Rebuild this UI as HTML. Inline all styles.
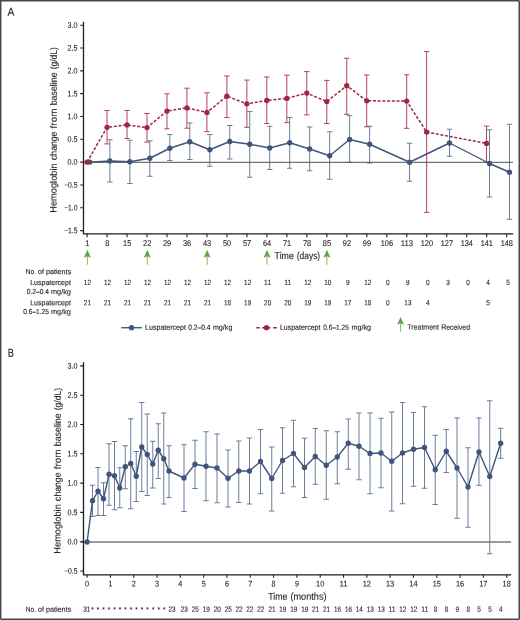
<!DOCTYPE html>
<html lang="en">
<head>
<meta charset="utf-8">
<title>Hemoglobin change from baseline</title>
<style>
html,body{margin:0;padding:0;background:#fff;}
body{width:520px;height:620px;overflow:hidden;}
svg{display:block;}
text{font-family:"Liberation Sans", sans-serif;text-rendering:geometricPrecision;}
</style>
</head>
<body>
<svg width="520" height="620" viewBox="0 0 520 620" role="img" aria-label="Hemoglobin change from baseline over time">
<rect x="0" y="0" width="520" height="620" fill="#fff"/>
<g id="panelA">
<path d="M109.88 139.75V182.0M107.18 139.75H112.58M107.18 182.0H112.58M129.86 140.25V183.5M127.16 140.25H132.56M127.16 183.5H132.56M149.84 140.75V176.25M147.14 140.75H152.54M147.14 176.25H152.54M169.82 134.5V160.5M167.12 134.5H172.52M167.12 160.5H172.52M189.8 123.0V159.5M187.1 123.0H192.5M187.1 159.5H192.5M209.78 134.5V166.25M207.08 134.5H212.48M207.08 166.25H212.48M229.76 125.5V159.0M227.06 125.5H232.46M227.06 159.0H232.46M249.74 111.5V177.25M247.04 111.5H252.44M247.04 177.25H252.44M269.72 126.25V169.5M267.02 126.25H272.42M267.02 169.5H272.42M289.7 117.5V168.25M287.0 117.5H292.4M287.0 168.25H292.4M309.68 127.0V170.75M306.98 127.0H312.38M306.98 170.75H312.38M329.66 131.75V179.25M326.96 131.75H332.36M326.96 179.25H332.36M349.64 115.75V162.25M346.94 115.75H352.34M346.94 162.25H352.34M369.62 126.25V163.0M366.92 126.25H372.32M366.92 163.0H372.32M409.58 143.25V181.25M406.88 143.25H412.28M406.88 181.25H412.28M449.54 129.25V156.25M446.84 129.25H452.24M446.84 156.25H452.24M489.5 129.75V197.0M486.8 129.75H492.2M486.8 197.0H492.2M509.48 124.25V219.25M506.78 124.25H512.18M506.78 219.25H512.18" stroke="#6b7c9b" stroke-width="1.0" fill="none"/>
<path d="M107.04 110.5V143.9M104.34 110.5H109.74M104.34 143.9H109.74M127.02 110.5V138.5M124.32 110.5H129.72M124.32 138.5H129.72M147.0 113.4V142.1M144.3 113.4H149.7M144.3 142.1H149.7M166.97 93.8V128.8M164.27 93.8H169.67M164.27 128.8H169.67M186.94 88.2V128.2M184.24 88.2H189.64M184.24 128.2H189.64M206.92 92.8V131.6M204.22 92.8H209.62M204.22 131.6H209.62M226.9 76.0V117.6M224.2 76.0H229.6M224.2 117.6H229.6M246.87 80.1V127.3M244.17 80.1H249.57M244.17 127.3H249.57M266.85 77.0V123.5M264.15 77.0H269.55M264.15 123.5H269.55M286.82 75.2V122.7M284.12 75.2H289.52M284.12 122.7H289.52M306.8 71.6V114.8M304.1 71.6H309.5M304.1 114.8H309.5M326.77 80.4V123.5M324.07 80.4H329.47M324.07 123.5H329.47M346.75 58.3V114.3M344.05 58.3H349.45M344.05 114.3H349.45M366.72 75.0V126.8M364.02 75.0H369.42M364.02 126.8H369.42M406.67 74.8V128.3M403.97 74.8H409.37M403.97 128.3H409.37M426.65 51.45V212.4M423.95 51.45H429.35M423.95 212.4H429.35M486.55 126.1V162.2M483.85 126.1H489.25M483.85 162.2H489.25" stroke="#b4445b" stroke-width="1.0" fill="none"/>
<path d="M89.9 162.1L109.88 161L129.86 161.75L149.84 158.25L169.82 148.25L189.8 141.75L209.78 149.75L229.76 141.5L249.74 144.25L269.72 148L289.7 142.75L309.68 149L329.66 155.75L349.64 139.5L369.62 144.25L409.58 162.25L449.54 143L489.5 163.5L509.48 172.25" stroke="#3f5579" stroke-width="1.4" fill="none" stroke-linejoin="round"/>
<path d="M87.07 162.1L107.04 127.3L127.02 124.9L147.0 127.6L166.97 111.1L186.94 107.9L206.92 112.45L226.9 96.2L246.87 103.8L266.85 100.5L286.82 98.4L306.8 93.1L326.77 101.6L346.75 85.7L366.72 100.8L406.67 101.1L426.65 132.1L486.55 143.4" stroke="#9e2742" stroke-width="1.5" fill="none" stroke-linejoin="round" stroke-dasharray="3 1.7"/>
<path d="M83.5 162.3H513" stroke="#4f4f4f" stroke-width="1"/>
<circle cx="89.9" cy="162.1" r="2.65" fill="#3f5579"/>
<circle cx="109.88" cy="161" r="2.65" fill="#3f5579"/>
<circle cx="129.86" cy="161.75" r="2.65" fill="#3f5579"/>
<circle cx="149.84" cy="158.25" r="2.65" fill="#3f5579"/>
<circle cx="169.82" cy="148.25" r="2.65" fill="#3f5579"/>
<circle cx="189.8" cy="141.75" r="2.65" fill="#3f5579"/>
<circle cx="209.78" cy="149.75" r="2.65" fill="#3f5579"/>
<circle cx="229.76" cy="141.5" r="2.65" fill="#3f5579"/>
<circle cx="249.74" cy="144.25" r="2.65" fill="#3f5579"/>
<circle cx="269.72" cy="148" r="2.65" fill="#3f5579"/>
<circle cx="289.7" cy="142.75" r="2.65" fill="#3f5579"/>
<circle cx="309.68" cy="149" r="2.65" fill="#3f5579"/>
<circle cx="329.66" cy="155.75" r="2.65" fill="#3f5579"/>
<circle cx="349.64" cy="139.5" r="2.65" fill="#3f5579"/>
<circle cx="369.62" cy="144.25" r="2.65" fill="#3f5579"/>
<circle cx="409.58" cy="162.25" r="2.65" fill="#3f5579"/>
<circle cx="449.54" cy="143" r="2.65" fill="#3f5579"/>
<circle cx="489.5" cy="163.5" r="2.65" fill="#3f5579"/>
<circle cx="509.48" cy="172.25" r="2.65" fill="#3f5579"/>
<circle cx="87.07" cy="162.1" r="2.65" fill="#9e2742"/>
<circle cx="107.04" cy="127.3" r="2.65" fill="#9e2742"/>
<circle cx="127.02" cy="124.9" r="2.65" fill="#9e2742"/>
<circle cx="147.0" cy="127.6" r="2.65" fill="#9e2742"/>
<circle cx="166.97" cy="111.1" r="2.65" fill="#9e2742"/>
<circle cx="186.94" cy="107.9" r="2.65" fill="#9e2742"/>
<circle cx="206.92" cy="112.45" r="2.65" fill="#9e2742"/>
<circle cx="226.9" cy="96.2" r="2.65" fill="#9e2742"/>
<circle cx="246.87" cy="103.8" r="2.65" fill="#9e2742"/>
<circle cx="266.85" cy="100.5" r="2.65" fill="#9e2742"/>
<circle cx="286.82" cy="98.4" r="2.65" fill="#9e2742"/>
<circle cx="306.8" cy="93.1" r="2.65" fill="#9e2742"/>
<circle cx="326.77" cy="101.6" r="2.65" fill="#9e2742"/>
<circle cx="346.75" cy="85.7" r="2.65" fill="#9e2742"/>
<circle cx="366.72" cy="100.8" r="2.65" fill="#9e2742"/>
<circle cx="406.67" cy="101.1" r="2.65" fill="#9e2742"/>
<circle cx="426.65" cy="132.1" r="2.65" fill="#9e2742"/>
<circle cx="486.55" cy="143.4" r="2.65" fill="#9e2742"/>
<path d="M83.5 22.4V233.85H512.5" stroke="#231f20" stroke-width="1.3" fill="none" stroke-linecap="square"/>
<path d="M80.2 25.2H83.5M80.2 48.02H83.5M80.2 70.84H83.5M80.2 93.66H83.5M80.2 116.48H83.5M80.2 139.3H83.5M80.2 162.12H83.5M80.2 184.94H83.5M80.2 207.76H83.5M80.2 230.58H83.5M87.1 233.85V237.2M107.08 233.85V237.2M127.06 233.85V237.2M147.04 233.85V237.2M167.02 233.85V237.2M187.0 233.85V237.2M206.98 233.85V237.2M226.96 233.85V237.2M246.94 233.85V237.2M266.92 233.85V237.2M286.9 233.85V237.2M306.88 233.85V237.2M326.86 233.85V237.2M346.84 233.85V237.2M366.82 233.85V237.2M386.8 233.85V237.2M406.78 233.85V237.2M426.76 233.85V237.2M446.74 233.85V237.2M466.72 233.85V237.2M486.7 233.85V237.2M506.68 233.85V237.2" stroke="#231f20" stroke-width="1.1" fill="none"/>
</g>
<g fill="#231f20" stroke="#231f20" stroke-width="0.12" font-family='"Liberation Sans", sans-serif'>
<text x="7.6" y="15.8" font-size="11.6" text-anchor="start" textLength="6.9" lengthAdjust="spacingAndGlyphs" transform="rotate(0.05 7.6 15.8)">A</text>
<text x="77.5" y="27.95" font-size="8.3" text-anchor="end" textLength="9.9" lengthAdjust="spacingAndGlyphs" transform="rotate(0.05 77.5 27.95)">3.0</text>
<text x="77.5" y="50.77" font-size="8.3" text-anchor="end" textLength="9.9" lengthAdjust="spacingAndGlyphs" transform="rotate(0.05 77.5 50.77)">2.5</text>
<text x="77.5" y="73.59" font-size="8.3" text-anchor="end" textLength="9.9" lengthAdjust="spacingAndGlyphs" transform="rotate(0.05 77.5 73.59)">2.0</text>
<text x="77.5" y="96.41" font-size="8.3" text-anchor="end" textLength="9.9" lengthAdjust="spacingAndGlyphs" transform="rotate(0.05 77.5 96.41)">1.5</text>
<text x="77.5" y="119.23" font-size="8.3" text-anchor="end" textLength="9.9" lengthAdjust="spacingAndGlyphs" transform="rotate(0.05 77.5 119.23)">1.0</text>
<text x="77.5" y="142.05" font-size="8.3" text-anchor="end" textLength="9.9" lengthAdjust="spacingAndGlyphs" transform="rotate(0.05 77.5 142.05)">0.5</text>
<text x="77.5" y="164.87" font-size="8.3" text-anchor="end" textLength="9.9" lengthAdjust="spacingAndGlyphs" transform="rotate(0.05 77.5 164.87)">0.0</text>
<text x="77.5" y="187.69" font-size="8.3" text-anchor="end" textLength="13.3" lengthAdjust="spacingAndGlyphs" transform="rotate(0.05 77.5 187.69)">−0.5</text>
<text x="77.5" y="210.51" font-size="8.3" text-anchor="end" textLength="13.3" lengthAdjust="spacingAndGlyphs" transform="rotate(0.05 77.5 210.51)">−1.0</text>
<text x="77.5" y="233.33" font-size="8.3" text-anchor="end" textLength="13.3" lengthAdjust="spacingAndGlyphs" transform="rotate(0.05 77.5 233.33)">−1.5</text>
<text x="87.2" y="245.9" font-size="8.3" text-anchor="middle" textLength="4.0" lengthAdjust="spacingAndGlyphs" transform="rotate(0.05 87.2 245.9)">1</text>
<text x="107.18" y="245.9" font-size="8.3" text-anchor="middle" textLength="4.0" lengthAdjust="spacingAndGlyphs" transform="rotate(0.05 107.18 245.9)">8</text>
<text x="127.16" y="245.9" font-size="8.3" text-anchor="middle" textLength="8.2" lengthAdjust="spacingAndGlyphs" transform="rotate(0.05 127.16 245.9)">15</text>
<text x="147.14" y="245.9" font-size="8.3" text-anchor="middle" textLength="8.2" lengthAdjust="spacingAndGlyphs" transform="rotate(0.05 147.14 245.9)">22</text>
<text x="167.12" y="245.9" font-size="8.3" text-anchor="middle" textLength="8.2" lengthAdjust="spacingAndGlyphs" transform="rotate(0.05 167.12 245.9)">29</text>
<text x="187.1" y="245.9" font-size="8.3" text-anchor="middle" textLength="8.2" lengthAdjust="spacingAndGlyphs" transform="rotate(0.05 187.1 245.9)">36</text>
<text x="207.08" y="245.9" font-size="8.3" text-anchor="middle" textLength="8.2" lengthAdjust="spacingAndGlyphs" transform="rotate(0.05 207.08 245.9)">43</text>
<text x="227.06" y="245.9" font-size="8.3" text-anchor="middle" textLength="8.2" lengthAdjust="spacingAndGlyphs" transform="rotate(0.05 227.06 245.9)">50</text>
<text x="247.04" y="245.9" font-size="8.3" text-anchor="middle" textLength="8.2" lengthAdjust="spacingAndGlyphs" transform="rotate(0.05 247.04 245.9)">57</text>
<text x="267.02" y="245.9" font-size="8.3" text-anchor="middle" textLength="8.2" lengthAdjust="spacingAndGlyphs" transform="rotate(0.05 267.02 245.9)">64</text>
<text x="287.0" y="245.9" font-size="8.3" text-anchor="middle" textLength="8.2" lengthAdjust="spacingAndGlyphs" transform="rotate(0.05 287.0 245.9)">71</text>
<text x="306.98" y="245.9" font-size="8.3" text-anchor="middle" textLength="8.2" lengthAdjust="spacingAndGlyphs" transform="rotate(0.05 306.98 245.9)">78</text>
<text x="326.96" y="245.9" font-size="8.3" text-anchor="middle" textLength="8.2" lengthAdjust="spacingAndGlyphs" transform="rotate(0.05 326.96 245.9)">85</text>
<text x="346.94" y="245.9" font-size="8.3" text-anchor="middle" textLength="8.2" lengthAdjust="spacingAndGlyphs" transform="rotate(0.05 346.94 245.9)">92</text>
<text x="366.92" y="245.9" font-size="8.3" text-anchor="middle" textLength="8.2" lengthAdjust="spacingAndGlyphs" transform="rotate(0.05 366.92 245.9)">99</text>
<text x="386.9" y="245.9" font-size="8.3" text-anchor="middle" textLength="12.3" lengthAdjust="spacingAndGlyphs" transform="rotate(0.05 386.9 245.9)">106</text>
<text x="406.88" y="245.9" font-size="8.3" text-anchor="middle" textLength="12.3" lengthAdjust="spacingAndGlyphs" transform="rotate(0.05 406.88 245.9)">113</text>
<text x="426.86" y="245.9" font-size="8.3" text-anchor="middle" textLength="12.3" lengthAdjust="spacingAndGlyphs" transform="rotate(0.05 426.86 245.9)">120</text>
<text x="446.84" y="245.9" font-size="8.3" text-anchor="middle" textLength="12.3" lengthAdjust="spacingAndGlyphs" transform="rotate(0.05 446.84 245.9)">127</text>
<text x="466.82" y="245.9" font-size="8.3" text-anchor="middle" textLength="12.3" lengthAdjust="spacingAndGlyphs" transform="rotate(0.05 466.82 245.9)">134</text>
<text x="486.8" y="245.9" font-size="8.3" text-anchor="middle" textLength="12.3" lengthAdjust="spacingAndGlyphs" transform="rotate(0.05 486.8 245.9)">141</text>
<text x="506.78" y="245.9" font-size="8.3" text-anchor="middle" textLength="12.3" lengthAdjust="spacingAndGlyphs" transform="rotate(0.05 506.78 245.9)">148</text>
<text y="258.9" font-size="9.9" transform="rotate(0.05 274.6 258.9)"><tspan x="274.6" textLength="19.3" lengthAdjust="spacingAndGlyphs">Time</tspan> <tspan x="296.7" textLength="23.5" lengthAdjust="spacingAndGlyphs">(days)</tspan></text>
<text y="0" font-size="9.4" transform="translate(56.6 213) rotate(-89.95)"><tspan x="0.2" textLength="49.5" lengthAdjust="spacingAndGlyphs">Hemoglobin</tspan> <tspan x="53.0" textLength="28.4" lengthAdjust="spacingAndGlyphs">change</tspan> <tspan x="84.6" textLength="19.8" lengthAdjust="spacingAndGlyphs">from</tspan> <tspan x="107.7" textLength="32.9" lengthAdjust="spacingAndGlyphs">baseline</tspan> <tspan x="143.7" textLength="22.2" lengthAdjust="spacingAndGlyphs">(g/dL)</tspan></text>
<text y="274.1" font-size="7.3" transform="rotate(0.05 25.8 274.1)"><tspan x="25.8" textLength="10.3" lengthAdjust="spacingAndGlyphs">No.</tspan> <tspan x="38.0" textLength="5.9" lengthAdjust="spacingAndGlyphs">of</tspan> <tspan x="45.9" textLength="25.4" lengthAdjust="spacingAndGlyphs">patients</tspan></text>
<text y="284.9" font-size="7.3" transform="rotate(0.05 30.2 284.9)"><tspan x="30.2" textLength="40.7" lengthAdjust="spacingAndGlyphs">Luspatercept</tspan></text>
<text y="294.1" font-size="7.3" transform="rotate(0.05 26.7 294.1)"><tspan x="26.7" textLength="22.2" lengthAdjust="spacingAndGlyphs">0.2–0.4</tspan> <tspan x="51.0" textLength="19.9" lengthAdjust="spacingAndGlyphs">mg/kg</tspan></text>
<text y="305.3" font-size="7.3" transform="rotate(0.05 30.2 305.3)"><tspan x="30.2" textLength="40.7" lengthAdjust="spacingAndGlyphs">Luspatercept</tspan></text>
<text y="314.1" font-size="7.3" transform="rotate(0.05 23.3 314.1)"><tspan x="23.3" textLength="25.6" lengthAdjust="spacingAndGlyphs">0.6–1.25</tspan> <tspan x="51.0" textLength="19.9" lengthAdjust="spacingAndGlyphs">mg/kg</tspan></text>
<text x="87.4" y="285.0" font-size="7.6" text-anchor="middle" textLength="7.1" lengthAdjust="spacingAndGlyphs" transform="rotate(0.05 87.4 285.0)">12</text>
<text x="107.43" y="285.0" font-size="7.6" text-anchor="middle" textLength="7.1" lengthAdjust="spacingAndGlyphs" transform="rotate(0.05 107.43 285.0)">12</text>
<text x="127.46" y="285.0" font-size="7.6" text-anchor="middle" textLength="7.1" lengthAdjust="spacingAndGlyphs" transform="rotate(0.05 127.46 285.0)">12</text>
<text x="147.49" y="285.0" font-size="7.6" text-anchor="middle" textLength="7.1" lengthAdjust="spacingAndGlyphs" transform="rotate(0.05 147.49 285.0)">12</text>
<text x="167.52" y="285.0" font-size="7.6" text-anchor="middle" textLength="7.1" lengthAdjust="spacingAndGlyphs" transform="rotate(0.05 167.52 285.0)">12</text>
<text x="187.55" y="285.0" font-size="7.6" text-anchor="middle" textLength="7.1" lengthAdjust="spacingAndGlyphs" transform="rotate(0.05 187.55 285.0)">12</text>
<text x="207.58" y="285.0" font-size="7.6" text-anchor="middle" textLength="7.1" lengthAdjust="spacingAndGlyphs" transform="rotate(0.05 207.58 285.0)">12</text>
<text x="227.61" y="285.0" font-size="7.6" text-anchor="middle" textLength="7.1" lengthAdjust="spacingAndGlyphs" transform="rotate(0.05 227.61 285.0)">12</text>
<text x="247.64" y="285.0" font-size="7.6" text-anchor="middle" textLength="7.1" lengthAdjust="spacingAndGlyphs" transform="rotate(0.05 247.64 285.0)">12</text>
<text x="267.67" y="285.0" font-size="7.6" text-anchor="middle" textLength="7.1" lengthAdjust="spacingAndGlyphs" transform="rotate(0.05 267.67 285.0)">11</text>
<text x="287.7" y="285.0" font-size="7.6" text-anchor="middle" textLength="7.1" lengthAdjust="spacingAndGlyphs" transform="rotate(0.05 287.7 285.0)">11</text>
<text x="307.73" y="285.0" font-size="7.6" text-anchor="middle" textLength="7.1" lengthAdjust="spacingAndGlyphs" transform="rotate(0.05 307.73 285.0)">12</text>
<text x="327.76" y="285.0" font-size="7.6" text-anchor="middle" textLength="7.1" lengthAdjust="spacingAndGlyphs" transform="rotate(0.05 327.76 285.0)">10</text>
<text x="347.79" y="285.0" font-size="7.6" text-anchor="middle" textLength="3.6" lengthAdjust="spacingAndGlyphs" transform="rotate(0.05 347.79 285.0)">9</text>
<text x="367.82" y="285.0" font-size="7.6" text-anchor="middle" textLength="7.1" lengthAdjust="spacingAndGlyphs" transform="rotate(0.05 367.82 285.0)">12</text>
<text x="387.85" y="285.0" font-size="7.6" text-anchor="middle" textLength="3.6" lengthAdjust="spacingAndGlyphs" transform="rotate(0.05 387.85 285.0)">0</text>
<text x="407.88" y="285.0" font-size="7.6" text-anchor="middle" textLength="3.6" lengthAdjust="spacingAndGlyphs" transform="rotate(0.05 407.88 285.0)">9</text>
<text x="427.91" y="285.0" font-size="7.6" text-anchor="middle" textLength="3.6" lengthAdjust="spacingAndGlyphs" transform="rotate(0.05 427.91 285.0)">0</text>
<text x="447.94" y="285.0" font-size="7.6" text-anchor="middle" textLength="3.6" lengthAdjust="spacingAndGlyphs" transform="rotate(0.05 447.94 285.0)">3</text>
<text x="467.97" y="285.0" font-size="7.6" text-anchor="middle" textLength="3.6" lengthAdjust="spacingAndGlyphs" transform="rotate(0.05 467.97 285.0)">0</text>
<text x="488.0" y="285.0" font-size="7.6" text-anchor="middle" textLength="3.6" lengthAdjust="spacingAndGlyphs" transform="rotate(0.05 488.0 285.0)">4</text>
<text x="508.03" y="285.0" font-size="7.6" text-anchor="middle" textLength="3.6" lengthAdjust="spacingAndGlyphs" transform="rotate(0.05 508.03 285.0)">5</text>
<text x="87.4" y="305.3" font-size="7.6" text-anchor="middle" textLength="7.1" lengthAdjust="spacingAndGlyphs" transform="rotate(0.05 87.4 305.3)">21</text>
<text x="107.43" y="305.3" font-size="7.6" text-anchor="middle" textLength="7.1" lengthAdjust="spacingAndGlyphs" transform="rotate(0.05 107.43 305.3)">21</text>
<text x="127.46" y="305.3" font-size="7.6" text-anchor="middle" textLength="7.1" lengthAdjust="spacingAndGlyphs" transform="rotate(0.05 127.46 305.3)">21</text>
<text x="147.49" y="305.3" font-size="7.6" text-anchor="middle" textLength="7.1" lengthAdjust="spacingAndGlyphs" transform="rotate(0.05 147.49 305.3)">21</text>
<text x="167.52" y="305.3" font-size="7.6" text-anchor="middle" textLength="7.1" lengthAdjust="spacingAndGlyphs" transform="rotate(0.05 167.52 305.3)">21</text>
<text x="187.55" y="305.3" font-size="7.6" text-anchor="middle" textLength="7.1" lengthAdjust="spacingAndGlyphs" transform="rotate(0.05 187.55 305.3)">21</text>
<text x="207.58" y="305.3" font-size="7.6" text-anchor="middle" textLength="7.1" lengthAdjust="spacingAndGlyphs" transform="rotate(0.05 207.58 305.3)">21</text>
<text x="227.61" y="305.3" font-size="7.6" text-anchor="middle" textLength="7.1" lengthAdjust="spacingAndGlyphs" transform="rotate(0.05 227.61 305.3)">18</text>
<text x="247.64" y="305.3" font-size="7.6" text-anchor="middle" textLength="7.1" lengthAdjust="spacingAndGlyphs" transform="rotate(0.05 247.64 305.3)">19</text>
<text x="267.67" y="305.3" font-size="7.6" text-anchor="middle" textLength="7.1" lengthAdjust="spacingAndGlyphs" transform="rotate(0.05 267.67 305.3)">20</text>
<text x="287.7" y="305.3" font-size="7.6" text-anchor="middle" textLength="7.1" lengthAdjust="spacingAndGlyphs" transform="rotate(0.05 287.7 305.3)">20</text>
<text x="307.73" y="305.3" font-size="7.6" text-anchor="middle" textLength="7.1" lengthAdjust="spacingAndGlyphs" transform="rotate(0.05 307.73 305.3)">19</text>
<text x="327.76" y="305.3" font-size="7.6" text-anchor="middle" textLength="7.1" lengthAdjust="spacingAndGlyphs" transform="rotate(0.05 327.76 305.3)">19</text>
<text x="347.79" y="305.3" font-size="7.6" text-anchor="middle" textLength="7.1" lengthAdjust="spacingAndGlyphs" transform="rotate(0.05 347.79 305.3)">17</text>
<text x="367.82" y="305.3" font-size="7.6" text-anchor="middle" textLength="7.1" lengthAdjust="spacingAndGlyphs" transform="rotate(0.05 367.82 305.3)">18</text>
<text x="387.85" y="305.3" font-size="7.6" text-anchor="middle" textLength="3.6" lengthAdjust="spacingAndGlyphs" transform="rotate(0.05 387.85 305.3)">0</text>
<text x="407.88" y="305.3" font-size="7.6" text-anchor="middle" textLength="7.1" lengthAdjust="spacingAndGlyphs" transform="rotate(0.05 407.88 305.3)">13</text>
<text x="427.91" y="305.3" font-size="7.6" text-anchor="middle" textLength="3.6" lengthAdjust="spacingAndGlyphs" transform="rotate(0.05 427.91 305.3)">4</text>
<text x="488.0" y="305.3" font-size="7.6" text-anchor="middle" textLength="3.6" lengthAdjust="spacingAndGlyphs" transform="rotate(0.05 488.0 305.3)">5</text>
<text y="329.8" font-size="7.3" transform="rotate(0.05 145.1 329.8)"><tspan x="145.1" textLength="40.8" lengthAdjust="spacingAndGlyphs">Luspatercept</tspan> <tspan x="188.2" textLength="22.3" lengthAdjust="spacingAndGlyphs">0.2–0.4</tspan> <tspan x="212.9" textLength="19.5" lengthAdjust="spacingAndGlyphs">mg/kg</tspan></text>
<text y="329.8" font-size="7.3" transform="rotate(0.05 279.9 329.8)"><tspan x="279.9" textLength="40.6" lengthAdjust="spacingAndGlyphs">Luspatercept</tspan> <tspan x="323.2" textLength="25.8" lengthAdjust="spacingAndGlyphs">0.6–1.25</tspan> <tspan x="351.4" textLength="19.7" lengthAdjust="spacingAndGlyphs">mg/kg</tspan></text>
<text y="329.6" font-size="7.3" transform="rotate(0.05 407.3 329.6)"><tspan x="407.3" textLength="31.6" lengthAdjust="spacingAndGlyphs">Treatment</tspan> <tspan x="441.2" textLength="28.8" lengthAdjust="spacingAndGlyphs">Received</tspan></text>
</g>
<path d="M121.3 327.7H141.8" stroke="#3f5579" stroke-width="1.4"/>
<circle cx="131.5" cy="327.7" r="2.65" fill="#3f5579"/>
<path d="M256.3 327.7H259.8M262.1 327.7H270.4M273.1 327.7H276.9" stroke="#9e2742" stroke-width="1.5"/>
<circle cx="266.5" cy="327.7" r="2.65" fill="#9e2742"/>
<path d="M87.4 254.8V264.7" stroke="#82bb6d" stroke-width="1" fill="none"/>
<path d="M87.4 249.8L90.9 257.7L87.4 256.2L83.9 257.7Z" fill="#62a34b"/>
<path d="M147.28 254.8V264.7" stroke="#82bb6d" stroke-width="1" fill="none"/>
<path d="M147.28 249.8L150.78 257.7L147.28 256.2L143.78 257.7Z" fill="#62a34b"/>
<path d="M207.16 254.8V264.7" stroke="#82bb6d" stroke-width="1" fill="none"/>
<path d="M207.16 249.8L210.66 257.7L207.16 256.2L203.66 257.7Z" fill="#62a34b"/>
<path d="M267.04 254.8V264.7" stroke="#82bb6d" stroke-width="1" fill="none"/>
<path d="M267.04 249.8L270.54 257.7L267.04 256.2L263.54 257.7Z" fill="#62a34b"/>
<path d="M326.92 254.8V264.7" stroke="#82bb6d" stroke-width="1" fill="none"/>
<path d="M326.92 249.8L330.42 257.7L326.92 256.2L323.42 257.7Z" fill="#62a34b"/>
<path d="M400.6 321.9V331.9" stroke="#82bb6d" stroke-width="1" fill="none"/>
<path d="M400.6 316.9L404.1 324.79999999999995L400.6 323.29999999999995L397.1 324.79999999999995Z" fill="#62a34b"/>
<g id="panelB">
<path d="M80.3 542.05H511" stroke="#7b7876" stroke-width="1.6"/>
<path d="M92.5 485.25V516.5M89.8 485.25H95.2M89.8 516.5H95.2M98.0 467.5V515.5M95.3 467.5H100.7M95.3 515.5H100.7M103.5 482.75V515.5M100.8 482.75H106.2M100.8 515.5H106.2M109.0 443.75V505.25M106.3 443.75H111.7M106.3 505.25H111.7M114.5 441.5V509.75M111.8 441.5H117.2M111.8 509.75H117.2M119.75 467.75V507.75M117.05 467.75H122.45M117.05 507.75H122.45M125.25 445.75V488.75M122.55 445.75H127.95M122.55 488.75H127.95M130.75 418.75V508.75M128.05 418.75H133.45M128.05 508.75H133.45M136.25 451.5V501.5M133.55 451.5H138.95M133.55 501.5H138.95M141.75 402.5V491.5M139.05 402.5H144.45M139.05 491.5H144.45M147.25 414.0V495.5M144.55 414.0H149.95M144.55 495.5H149.95M152.75 441.25V488.0M150.05 441.25H155.45M150.05 488.0H155.45M158.25 423.75V478.5M155.55 423.75H160.95M155.55 478.5H160.95M163.75 413.0V504.0M161.05 413.0H166.45M161.05 504.0H166.45M169.0 445.75V497.5M166.3 445.75H171.7M166.3 497.5H171.7M184.0 444.75V511.5M181.3 444.75H186.7M181.3 511.5H186.7M195.0 440.25V488.5M192.3 440.25H197.7M192.3 488.5H197.7M206.0 431.75V500.75M203.3 431.75H208.7M203.3 500.75H208.7M217.0 434.0V502.75M214.3 434.0H219.7M214.3 502.75H219.7M228.0 450.0V507.0M225.3 450.0H230.7M225.3 507.0H230.7M238.75 441.0V502.5M236.05 441.0H241.45M236.05 502.5H241.45M249.5 438.0V504.0M246.8 438.0H252.2M246.8 504.0H252.2M260.5 429.5V493.75M257.8 429.5H263.2M257.8 493.75H263.2M271.75 447.0V511.0M269.05 447.0H274.45M269.05 511.0H274.45M282.5 427.75V493.25M279.8 427.75H285.2M279.8 493.25H285.2M293.5 420.25V486.75M290.8 420.25H296.2M290.8 486.75H296.2M304.5 438.25V497.5M301.8 438.25H307.2M301.8 497.5H307.2M315.25 428.5V484.25M312.55 428.5H317.95M312.55 484.25H317.95M326.25 430.75V499.25M323.55 430.75H328.95M323.55 499.25H328.95M337.25 431.75V483.75M334.55 431.75H339.95M334.55 483.75H339.95M348.25 419.0V469.25M345.55 419.0H350.95M345.55 469.25H350.95M359.0 413.0V479.75M356.3 413.0H361.7M356.3 479.75H361.7M370.0 413.0V493.75M367.3 413.0H372.7M367.3 493.75H372.7M381.0 418.25V487.75M378.3 418.25H383.7M378.3 487.75H383.7M391.75 412.0V511.0M389.05 412.0H394.45M389.05 511.0H394.45M402.5 402.5V503.75M399.8 402.5H405.2M399.8 503.75H405.2M413.5 412.5V486.25M410.8 412.5H416.2M410.8 486.25H416.2M424.5 406.75V488.25M421.8 406.75H427.2M421.8 488.25H427.2M435.25 435.25V504.5M432.55 435.25H437.95M432.55 504.5H437.95M446.25 429.5V472.5M443.55 429.5H448.95M443.55 472.5H448.95M457.0 418.0V518.25M454.3 418.0H459.7M454.3 518.25H459.7M468.0 447.75V527.25M465.3 447.75H470.7M465.3 527.25H470.7M478.95 418.0V485.25M476.25 418.0H481.65M476.25 485.25H481.65M489.75 400.75V553.75M487.05 400.75H492.45M487.05 553.75H492.45M500.7 428.25V458.25M498.0 428.25H503.4M498.0 458.25H503.4" stroke="#6b7c9b" stroke-width="1.0" fill="none"/>
<path d="M87.1 542.0L92.5 500.75L98 491.25L103.5 498.75L109 474.25L114.5 475.75L119.75 488L125.25 466.75L130.75 463.5L136.25 476.25L141.75 447L147.25 454.5L152.75 464L158.25 450.25L163.75 458.75L169 471L184 478L195 464.25L206 466.25L217 468L228.0 478.25L238.75 471L249.5 471L260.5 461.5L271.75 478.5L282.5 460.5L293.5 453.5L304.5 467.5L315.25 456.5L326.25 465.25L337.25 457L348.25 443.25L359 446.25L370 453.5L381.0 453L391.75 461.25L402.5 453L413.5 449.25L424.5 447.5L435.25 469.75L446.25 451.25L457 468L468 487L478.95 452L489.75 476.5L500.7 443.25" stroke="#3f5579" stroke-width="1.4" fill="none" stroke-linejoin="round"/>
<circle cx="87.1" cy="542.0" r="2.65" fill="#3f5579"/>
<circle cx="92.5" cy="500.75" r="2.65" fill="#3f5579"/>
<circle cx="98" cy="491.25" r="2.65" fill="#3f5579"/>
<circle cx="103.5" cy="498.75" r="2.65" fill="#3f5579"/>
<circle cx="109" cy="474.25" r="2.65" fill="#3f5579"/>
<circle cx="114.5" cy="475.75" r="2.65" fill="#3f5579"/>
<circle cx="119.75" cy="488" r="2.65" fill="#3f5579"/>
<circle cx="125.25" cy="466.75" r="2.65" fill="#3f5579"/>
<circle cx="130.75" cy="463.5" r="2.65" fill="#3f5579"/>
<circle cx="136.25" cy="476.25" r="2.65" fill="#3f5579"/>
<circle cx="141.75" cy="447" r="2.65" fill="#3f5579"/>
<circle cx="147.25" cy="454.5" r="2.65" fill="#3f5579"/>
<circle cx="152.75" cy="464" r="2.65" fill="#3f5579"/>
<circle cx="158.25" cy="450.25" r="2.65" fill="#3f5579"/>
<circle cx="163.75" cy="458.75" r="2.65" fill="#3f5579"/>
<circle cx="169" cy="471" r="2.65" fill="#3f5579"/>
<circle cx="184" cy="478" r="2.65" fill="#3f5579"/>
<circle cx="195" cy="464.25" r="2.65" fill="#3f5579"/>
<circle cx="206" cy="466.25" r="2.65" fill="#3f5579"/>
<circle cx="217" cy="468" r="2.65" fill="#3f5579"/>
<circle cx="228.0" cy="478.25" r="2.65" fill="#3f5579"/>
<circle cx="238.75" cy="471" r="2.65" fill="#3f5579"/>
<circle cx="249.5" cy="471" r="2.65" fill="#3f5579"/>
<circle cx="260.5" cy="461.5" r="2.65" fill="#3f5579"/>
<circle cx="271.75" cy="478.5" r="2.65" fill="#3f5579"/>
<circle cx="282.5" cy="460.5" r="2.65" fill="#3f5579"/>
<circle cx="293.5" cy="453.5" r="2.65" fill="#3f5579"/>
<circle cx="304.5" cy="467.5" r="2.65" fill="#3f5579"/>
<circle cx="315.25" cy="456.5" r="2.65" fill="#3f5579"/>
<circle cx="326.25" cy="465.25" r="2.65" fill="#3f5579"/>
<circle cx="337.25" cy="457" r="2.65" fill="#3f5579"/>
<circle cx="348.25" cy="443.25" r="2.65" fill="#3f5579"/>
<circle cx="359" cy="446.25" r="2.65" fill="#3f5579"/>
<circle cx="370" cy="453.5" r="2.65" fill="#3f5579"/>
<circle cx="381.0" cy="453" r="2.65" fill="#3f5579"/>
<circle cx="391.75" cy="461.25" r="2.65" fill="#3f5579"/>
<circle cx="402.5" cy="453" r="2.65" fill="#3f5579"/>
<circle cx="413.5" cy="449.25" r="2.65" fill="#3f5579"/>
<circle cx="424.5" cy="447.5" r="2.65" fill="#3f5579"/>
<circle cx="435.25" cy="469.75" r="2.65" fill="#3f5579"/>
<circle cx="446.25" cy="451.25" r="2.65" fill="#3f5579"/>
<circle cx="457" cy="468" r="2.65" fill="#3f5579"/>
<circle cx="468" cy="487" r="2.65" fill="#3f5579"/>
<circle cx="478.95" cy="452" r="2.65" fill="#3f5579"/>
<circle cx="489.75" cy="476.5" r="2.65" fill="#3f5579"/>
<circle cx="500.7" cy="443.25" r="2.65" fill="#3f5579"/>
<path d="M83.5 362.9V574.8H510.5" stroke="#231f20" stroke-width="1.35" fill="none" stroke-linecap="square"/>
<path d="M80.2 365.9H83.5M80.2 395.2H83.5M80.2 424.5H83.5M80.2 453.8H83.5M80.2 483.1H83.5M80.2 512.4H83.5M80.2 541.7H83.5M80.2 571.0H83.5M87.1 574.8V577.8M110.41 574.8V577.8M133.72 574.8V577.8M157.03 574.8V577.8M180.34 574.8V577.8M203.65 574.8V577.8M226.96 574.8V577.8M250.27 574.8V577.8M273.58 574.8V577.8M296.89 574.8V577.8M320.2 574.8V577.8M343.51 574.8V577.8M366.82 574.8V577.8M390.13 574.8V577.8M413.44 574.8V577.8M436.75 574.8V577.8M460.06 574.8V577.8M483.37 574.8V577.8M506.68 574.8V577.8" stroke="#231f20" stroke-width="1.1" fill="none"/>
</g>
<g fill="#231f20" stroke="#231f20" stroke-width="0.12" font-family='"Liberation Sans", sans-serif'>
<text x="7.7" y="356.8" font-size="11.6" text-anchor="start" textLength="6.1" lengthAdjust="spacingAndGlyphs" transform="rotate(0.05 7.7 356.8)">B</text>
<text x="77.5" y="368.65" font-size="8.3" text-anchor="end" textLength="9.9" lengthAdjust="spacingAndGlyphs" transform="rotate(0.05 77.5 368.65)">3.0</text>
<text x="77.5" y="397.95" font-size="8.3" text-anchor="end" textLength="9.9" lengthAdjust="spacingAndGlyphs" transform="rotate(0.05 77.5 397.95)">2.5</text>
<text x="77.5" y="427.25" font-size="8.3" text-anchor="end" textLength="9.9" lengthAdjust="spacingAndGlyphs" transform="rotate(0.05 77.5 427.25)">2.0</text>
<text x="77.5" y="456.55" font-size="8.3" text-anchor="end" textLength="9.9" lengthAdjust="spacingAndGlyphs" transform="rotate(0.05 77.5 456.55)">1.5</text>
<text x="77.5" y="485.85" font-size="8.3" text-anchor="end" textLength="9.9" lengthAdjust="spacingAndGlyphs" transform="rotate(0.05 77.5 485.85)">1.0</text>
<text x="77.5" y="515.15" font-size="8.3" text-anchor="end" textLength="9.9" lengthAdjust="spacingAndGlyphs" transform="rotate(0.05 77.5 515.15)">0.5</text>
<text x="77.5" y="544.45" font-size="8.3" text-anchor="end" textLength="9.9" lengthAdjust="spacingAndGlyphs" transform="rotate(0.05 77.5 544.45)">0.0</text>
<text x="77.5" y="573.75" font-size="8.3" text-anchor="end" textLength="13.3" lengthAdjust="spacingAndGlyphs" transform="rotate(0.05 77.5 573.75)">−0.5</text>
<text x="87.1" y="586.6" font-size="8.3" text-anchor="middle" textLength="4.0" lengthAdjust="spacingAndGlyphs" transform="rotate(0.05 87.1 586.6)">0</text>
<text x="110.41" y="586.6" font-size="8.3" text-anchor="middle" textLength="4.0" lengthAdjust="spacingAndGlyphs" transform="rotate(0.05 110.41 586.6)">1</text>
<text x="133.72" y="586.6" font-size="8.3" text-anchor="middle" textLength="4.0" lengthAdjust="spacingAndGlyphs" transform="rotate(0.05 133.72 586.6)">2</text>
<text x="157.03" y="586.6" font-size="8.3" text-anchor="middle" textLength="4.0" lengthAdjust="spacingAndGlyphs" transform="rotate(0.05 157.03 586.6)">3</text>
<text x="180.34" y="586.6" font-size="8.3" text-anchor="middle" textLength="4.0" lengthAdjust="spacingAndGlyphs" transform="rotate(0.05 180.34 586.6)">4</text>
<text x="203.65" y="586.6" font-size="8.3" text-anchor="middle" textLength="4.0" lengthAdjust="spacingAndGlyphs" transform="rotate(0.05 203.65 586.6)">5</text>
<text x="226.96" y="586.6" font-size="8.3" text-anchor="middle" textLength="4.0" lengthAdjust="spacingAndGlyphs" transform="rotate(0.05 226.96 586.6)">6</text>
<text x="250.27" y="586.6" font-size="8.3" text-anchor="middle" textLength="4.0" lengthAdjust="spacingAndGlyphs" transform="rotate(0.05 250.27 586.6)">7</text>
<text x="273.58" y="586.6" font-size="8.3" text-anchor="middle" textLength="4.0" lengthAdjust="spacingAndGlyphs" transform="rotate(0.05 273.58 586.6)">8</text>
<text x="296.89" y="586.6" font-size="8.3" text-anchor="middle" textLength="4.0" lengthAdjust="spacingAndGlyphs" transform="rotate(0.05 296.89 586.6)">9</text>
<text x="320.2" y="586.6" font-size="8.3" text-anchor="middle" textLength="8.2" lengthAdjust="spacingAndGlyphs" transform="rotate(0.05 320.2 586.6)">10</text>
<text x="343.51" y="586.6" font-size="8.3" text-anchor="middle" textLength="8.2" lengthAdjust="spacingAndGlyphs" transform="rotate(0.05 343.51 586.6)">11</text>
<text x="366.82" y="586.6" font-size="8.3" text-anchor="middle" textLength="8.2" lengthAdjust="spacingAndGlyphs" transform="rotate(0.05 366.82 586.6)">12</text>
<text x="390.13" y="586.6" font-size="8.3" text-anchor="middle" textLength="8.2" lengthAdjust="spacingAndGlyphs" transform="rotate(0.05 390.13 586.6)">13</text>
<text x="413.44" y="586.6" font-size="8.3" text-anchor="middle" textLength="8.2" lengthAdjust="spacingAndGlyphs" transform="rotate(0.05 413.44 586.6)">14</text>
<text x="436.75" y="586.6" font-size="8.3" text-anchor="middle" textLength="8.2" lengthAdjust="spacingAndGlyphs" transform="rotate(0.05 436.75 586.6)">15</text>
<text x="460.06" y="586.6" font-size="8.3" text-anchor="middle" textLength="8.2" lengthAdjust="spacingAndGlyphs" transform="rotate(0.05 460.06 586.6)">16</text>
<text x="483.37" y="586.6" font-size="8.3" text-anchor="middle" textLength="8.2" lengthAdjust="spacingAndGlyphs" transform="rotate(0.05 483.37 586.6)">17</text>
<text x="506.68" y="586.6" font-size="8.3" text-anchor="middle" textLength="8.2" lengthAdjust="spacingAndGlyphs" transform="rotate(0.05 506.68 586.6)">18</text>
<text y="599.8" font-size="9.9" transform="rotate(0.05 268.3 599.8)"><tspan x="268.3" textLength="19.0" lengthAdjust="spacingAndGlyphs">Time</tspan> <tspan x="290.4" textLength="36.2" lengthAdjust="spacingAndGlyphs">(months)</tspan></text>
<text y="0" font-size="9.4" transform="translate(60.6 553.9) rotate(-89.95)"><tspan x="0.2" textLength="49.5" lengthAdjust="spacingAndGlyphs">Hemoglobin</tspan> <tspan x="53.0" textLength="28.4" lengthAdjust="spacingAndGlyphs">change</tspan> <tspan x="84.6" textLength="19.8" lengthAdjust="spacingAndGlyphs">from</tspan> <tspan x="107.7" textLength="32.9" lengthAdjust="spacingAndGlyphs">baseline</tspan> <tspan x="143.7" textLength="22.2" lengthAdjust="spacingAndGlyphs">(g/dL)</tspan></text>
<text y="611.8" font-size="7.3" transform="rotate(0.05 25.8 611.8)"><tspan x="25.8" textLength="10.3" lengthAdjust="spacingAndGlyphs">No.</tspan> <tspan x="38.0" textLength="5.9" lengthAdjust="spacingAndGlyphs">of</tspan> <tspan x="45.9" textLength="25.4" lengthAdjust="spacingAndGlyphs">patients</tspan></text>
<text y="611.8" font-size="7.6" transform="rotate(0.05 83.3 611.8)"><tspan x="83.2" textLength="7.1" lengthAdjust="spacingAndGlyphs">31</tspan><tspan x="91.3" dy="-0.35" font-size="6.3">*</tspan><tspan x="96.81" dy="0" font-size="6.3">*</tspan><tspan x="102.31" dy="0" font-size="6.3">*</tspan><tspan x="107.82" dy="0" font-size="6.3">*</tspan><tspan x="113.33" dy="0" font-size="6.3">*</tspan><tspan x="118.83" dy="0" font-size="6.3">*</tspan><tspan x="124.34" dy="0" font-size="6.3">*</tspan><tspan x="129.85" dy="0" font-size="6.3">*</tspan><tspan x="135.36" dy="0" font-size="6.3">*</tspan><tspan x="140.86" dy="0" font-size="6.3">*</tspan><tspan x="146.37" dy="0" font-size="6.3">*</tspan><tspan x="151.88" dy="0" font-size="6.3">*</tspan><tspan x="157.38" dy="0" font-size="6.3">*</tspan><tspan x="162.89" dy="0" font-size="6.3">*</tspan></text>
<text x="171.95" y="611.8" font-size="7.6" text-anchor="middle" textLength="7.1" lengthAdjust="spacingAndGlyphs" transform="rotate(0.05 171.95 611.8)">23</text>
<text x="184.2" y="611.8" font-size="7.6" text-anchor="middle" textLength="7.1" lengthAdjust="spacingAndGlyphs" transform="rotate(0.05 184.2 611.8)">23</text>
<text x="195.2" y="611.8" font-size="7.6" text-anchor="middle" textLength="7.1" lengthAdjust="spacingAndGlyphs" transform="rotate(0.05 195.2 611.8)">25</text>
<text x="206.2" y="611.8" font-size="7.6" text-anchor="middle" textLength="7.1" lengthAdjust="spacingAndGlyphs" transform="rotate(0.05 206.2 611.8)">19</text>
<text x="217.2" y="611.8" font-size="7.6" text-anchor="middle" textLength="7.1" lengthAdjust="spacingAndGlyphs" transform="rotate(0.05 217.2 611.8)">20</text>
<text x="228.2" y="611.8" font-size="7.6" text-anchor="middle" textLength="7.1" lengthAdjust="spacingAndGlyphs" transform="rotate(0.05 228.2 611.8)">25</text>
<text x="238.95" y="611.8" font-size="7.6" text-anchor="middle" textLength="7.1" lengthAdjust="spacingAndGlyphs" transform="rotate(0.05 238.95 611.8)">22</text>
<text x="249.7" y="611.8" font-size="7.6" text-anchor="middle" textLength="7.1" lengthAdjust="spacingAndGlyphs" transform="rotate(0.05 249.7 611.8)">22</text>
<text x="260.7" y="611.8" font-size="7.6" text-anchor="middle" textLength="7.1" lengthAdjust="spacingAndGlyphs" transform="rotate(0.05 260.7 611.8)">22</text>
<text x="271.95" y="611.8" font-size="7.6" text-anchor="middle" textLength="7.1" lengthAdjust="spacingAndGlyphs" transform="rotate(0.05 271.95 611.8)">21</text>
<text x="282.7" y="611.8" font-size="7.6" text-anchor="middle" textLength="7.1" lengthAdjust="spacingAndGlyphs" transform="rotate(0.05 282.7 611.8)">19</text>
<text x="293.7" y="611.8" font-size="7.6" text-anchor="middle" textLength="7.1" lengthAdjust="spacingAndGlyphs" transform="rotate(0.05 293.7 611.8)">19</text>
<text x="304.7" y="611.8" font-size="7.6" text-anchor="middle" textLength="7.1" lengthAdjust="spacingAndGlyphs" transform="rotate(0.05 304.7 611.8)">19</text>
<text x="315.45" y="611.8" font-size="7.6" text-anchor="middle" textLength="7.1" lengthAdjust="spacingAndGlyphs" transform="rotate(0.05 315.45 611.8)">21</text>
<text x="326.45" y="611.8" font-size="7.6" text-anchor="middle" textLength="7.1" lengthAdjust="spacingAndGlyphs" transform="rotate(0.05 326.45 611.8)">21</text>
<text x="337.45" y="611.8" font-size="7.6" text-anchor="middle" textLength="7.1" lengthAdjust="spacingAndGlyphs" transform="rotate(0.05 337.45 611.8)">16</text>
<text x="348.45" y="611.8" font-size="7.6" text-anchor="middle" textLength="7.1" lengthAdjust="spacingAndGlyphs" transform="rotate(0.05 348.45 611.8)">16</text>
<text x="359.2" y="611.8" font-size="7.6" text-anchor="middle" textLength="7.1" lengthAdjust="spacingAndGlyphs" transform="rotate(0.05 359.2 611.8)">14</text>
<text x="370.2" y="611.8" font-size="7.6" text-anchor="middle" textLength="7.1" lengthAdjust="spacingAndGlyphs" transform="rotate(0.05 370.2 611.8)">13</text>
<text x="381.2" y="611.8" font-size="7.6" text-anchor="middle" textLength="7.1" lengthAdjust="spacingAndGlyphs" transform="rotate(0.05 381.2 611.8)">13</text>
<text x="391.95" y="611.8" font-size="7.6" text-anchor="middle" textLength="7.1" lengthAdjust="spacingAndGlyphs" transform="rotate(0.05 391.95 611.8)">11</text>
<text x="402.7" y="611.8" font-size="7.6" text-anchor="middle" textLength="7.1" lengthAdjust="spacingAndGlyphs" transform="rotate(0.05 402.7 611.8)">12</text>
<text x="413.7" y="611.8" font-size="7.6" text-anchor="middle" textLength="7.1" lengthAdjust="spacingAndGlyphs" transform="rotate(0.05 413.7 611.8)">12</text>
<text x="424.7" y="611.8" font-size="7.6" text-anchor="middle" textLength="7.1" lengthAdjust="spacingAndGlyphs" transform="rotate(0.05 424.7 611.8)">11</text>
<text x="435.45" y="611.8" font-size="7.6" text-anchor="middle" textLength="3.6" lengthAdjust="spacingAndGlyphs" transform="rotate(0.05 435.45 611.8)">8</text>
<text x="446.45" y="611.8" font-size="7.6" text-anchor="middle" textLength="3.6" lengthAdjust="spacingAndGlyphs" transform="rotate(0.05 446.45 611.8)">8</text>
<text x="457.2" y="611.8" font-size="7.6" text-anchor="middle" textLength="3.6" lengthAdjust="spacingAndGlyphs" transform="rotate(0.05 457.2 611.8)">9</text>
<text x="468.2" y="611.8" font-size="7.6" text-anchor="middle" textLength="3.6" lengthAdjust="spacingAndGlyphs" transform="rotate(0.05 468.2 611.8)">8</text>
<text x="479.15" y="611.8" font-size="7.6" text-anchor="middle" textLength="3.6" lengthAdjust="spacingAndGlyphs" transform="rotate(0.05 479.15 611.8)">5</text>
<text x="489.95" y="611.8" font-size="7.6" text-anchor="middle" textLength="3.6" lengthAdjust="spacingAndGlyphs" transform="rotate(0.05 489.95 611.8)">5</text>
<text x="500.9" y="611.8" font-size="7.6" text-anchor="middle" textLength="3.6" lengthAdjust="spacingAndGlyphs" transform="rotate(0.05 500.9 611.8)">4</text>
</g>
<path d="M0 0H520V620H0Z M1.45 1.45V618.5H518.5V1.45Z" fill="#484848" fill-rule="evenodd"/>
<path d="M519 0h1v1h-1zM519 619h1v1h-1zM0 619h1v1h-1z" fill="#8c8c8c"/>
</svg>
</body>
</html>
